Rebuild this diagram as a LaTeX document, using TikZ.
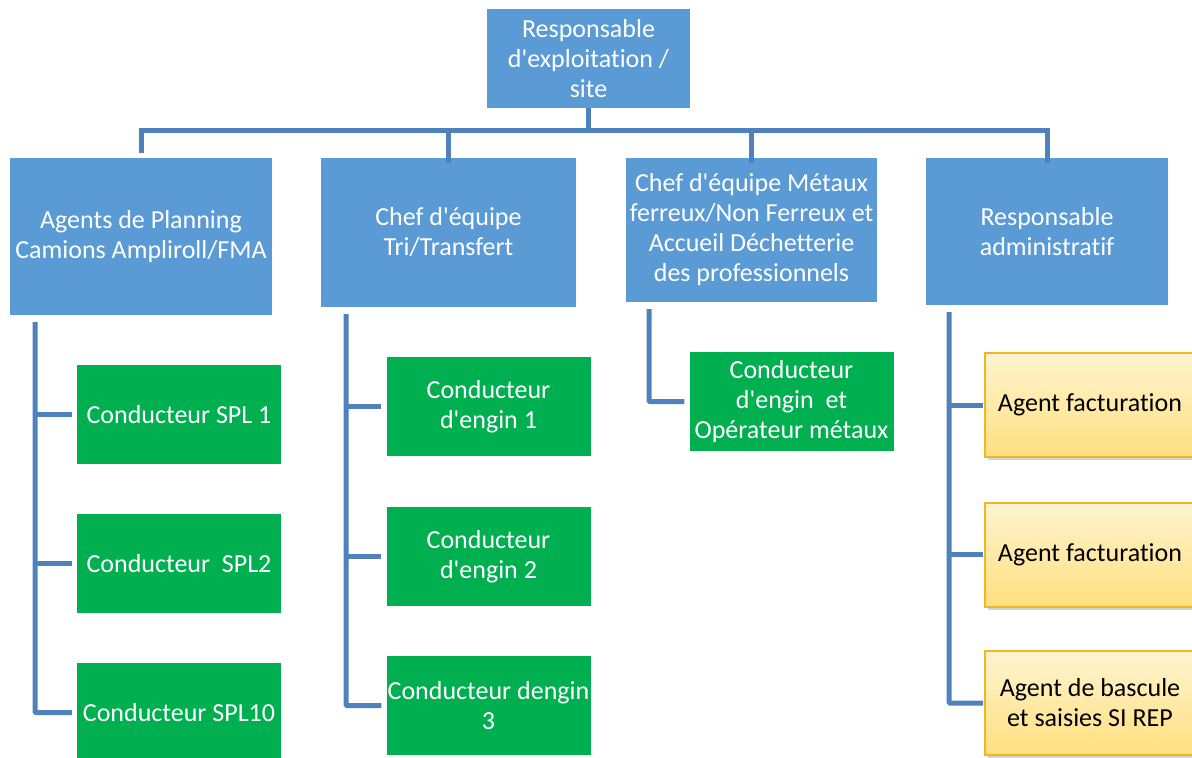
\documentclass[tikz,border=0pt]{standalone}
\usepackage{fontspec}
\setmainfont{Carlito}[Ligatures={TeXOff,NoCommon}]
\usetikzlibrary{shadows}
\definecolor{boxblue}{HTML}{5B9BD5}
\definecolor{boxgreen}{HTML}{00B050}
\definecolor{linkblue}{HTML}{4F81BD}
\definecolor{ytop}{HTML}{FFF4D0}
\definecolor{ybot}{HTML}{FFDF7E}
\definecolor{yborder}{HTML}{F2B526}
\tikzset{
  base/.style={rectangle, align=center, inner sep=0pt, font=\fontsize{26}{30}\selectfont},
  bluebox/.style={base, fill=boxblue, text=white},
  greenbox/.style={base, fill=boxgreen, text=white, minimum width=204pt, minimum height=99pt},
  yellowbox/.style={base, draw=yborder, line width=2pt, top color=ytop, bottom color=ybot, text=black,
    minimum width=210pt, minimum height=104pt, drop shadow={shadow xshift=3pt, shadow yshift=-3pt, opacity=0.35}},
  link/.style={draw=linkblue, line width=5pt},
}
\begin{document}
\begin{tikzpicture}[x=1pt,y=-1pt]
\useasboundingbox (0,0) rectangle (1192,758);
% top
\node[bluebox, minimum width=203pt, minimum height=99pt] (top) at (588.5,58.5) {Responsable\\d'exploitation /\\site};
% level 1
\node[bluebox, minimum width=262pt, minimum height=157pt] (A) at (141,236.5) {Agents de Planning\\Camions Ampliroll/FMA};
\node[bluebox, minimum width=255pt, minimum height=149pt] (B) at (448.5,232.5) {Chef d'équipe\\Tri/Transfert};
\node[bluebox, minimum width=251pt, minimum height=144pt] (C) at (751.5,230) {Chef d'équipe Métaux\\ferreux/Non Ferreux et\\Accueil Déchetterie\\des professionnels};
\node[bluebox, minimum width=242pt, minimum height=147pt] (D) at (1047,231.5) {Responsable\\administratif};
% level 2
\node[greenbox] (a1) at (179,414.5) {Conducteur SPL 1};
\node[greenbox] (a2) at (179,563.5) {Conducteur\ \ SPL2};
\node[greenbox] (a3) at (179,712.5) {Conducteur SPL10};
\node[greenbox] (b1) at (488.5,406.5) {Conducteur\\d'engin 1};
\node[greenbox] (b2) at (488.5,556.5) {Conducteur\\d'engin 2};
\node[greenbox] (b3) at (488.5,705.5) {Conducteur dengin\\3};
\node[greenbox] (c1) at (791.5,401.5) {Conducteur\\d'engin\ \ et\\Opérateur métaux};
\node[yellowbox] (d1) at (1090,405) {Agent facturation};
\node[yellowbox] (d2) at (1090,554.5) {Agent facturation};
\node[yellowbox] (d3) at (1090,703) {Agent de bascule\\et saisies SI REP};
% top connectors
\coordinate (bar) at (588.5,130);
\draw[link] (top.south) -- (bar);
\draw[link] (A.north) ++(0,-5) |- (bar) -| ([yshift=-5pt]D.north);
\draw[link] (bar) -| ([yshift=-5pt]B.north);
\draw[link] (bar) -| ([yshift=-5pt]C.north);
% child connectors
\coordinate (aL) at (35,322);
\coordinate (bL) at (346,314);
\coordinate (cL) at (649,309);
\coordinate (dL) at (949,312);
\draw[link, rounded corners=1pt] (aL) |- ([xshift=-5pt]a3.west);
\draw[link] (aL |- a1.west) -- ([xshift=-5pt]a1.west);
\draw[link] (aL |- a2.west) -- ([xshift=-5pt]a2.west);
\draw[link, rounded corners=1pt] (bL) |- ([xshift=-5pt]b3.west);
\draw[link] (bL |- b1.west) -- ([xshift=-5pt]b1.west);
\draw[link] (bL |- b2.west) -- ([xshift=-5pt]b2.west);
\draw[link, rounded corners=1pt] (cL) |- ([xshift=-5pt]c1.west);
\draw[link, rounded corners=1pt] (dL) |- ([xshift=-1pt]d3.west);
\draw[link] (dL |- d1.west) -- ([xshift=-1pt]d1.west);
\draw[link] (dL |- d2.west) -- ([xshift=-1pt]d2.west);
\end{tikzpicture}
\end{document}
